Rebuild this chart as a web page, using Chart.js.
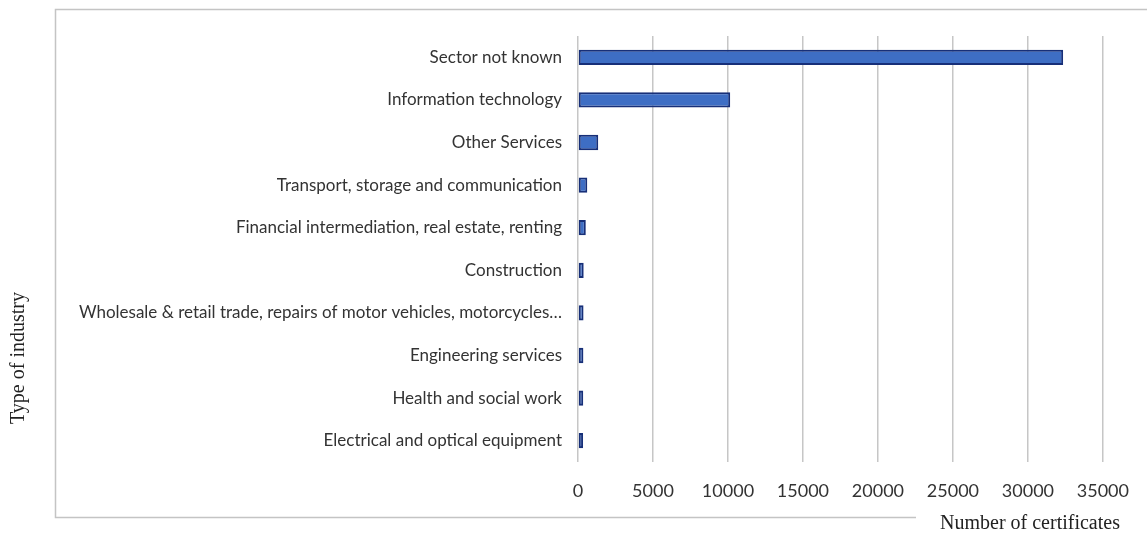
<!DOCTYPE html>
<html lang="en">
<head>
  <meta charset="UTF-8" />
  <title>Certificates by type of industry</title>
  <script src="https://cdn.jsdelivr.net/npm/chart.js"></script>
  <style>
    * { box-sizing: border-box; margin: 0; padding: 0; }
    body { background: #ffffff; }
    .chart-wrap { position: relative; width: 1147px; height: 535px; }
  </style>
</head>
<body>
  <div class="chart-wrap"><canvas id="industryChart"></canvas></div>

  <script>
    // Data
    const industries = [
      'Sector not known',
      'Information technology',
      'Other Services',
      'Transport, storage and communication',
      'Financial intermediation, real estate, renting',
      'Construction',
      'Wholesale & retail trade, repairs of motor vehicles, motorcycles…',
      'Engineering services',
      'Health and social work',
      'Electrical and optical equipment'
    ];
    const certificates = [32350, 10150, 1350, 620, 520, 380, 370, 360, 350, 340];
    const xTicks = [0, 5000, 10000, 15000, 20000, 25000, 30000, 35000];

    const yTitle = 'Type of industry';
    const xTitle = 'Number of certificates';

    // outer frame + the two serif axis titles
    const framePlugin = {
      id: 'frame',
      beforeDraw(chart) {
        const c = chart.ctx;
        c.save();
        c.strokeStyle = '#c4c4c4';
        c.lineWidth = 1.5;
        c.beginPath();
        c.moveTo(1147, 9.5);
        c.lineTo(55.5, 9.5);
        c.lineTo(55.5, 517.5);
        c.lineTo(916, 517.5);
        c.stroke();
        c.restore();
      },
      afterDraw(chart) {
        const c = chart.ctx;
        c.save();
        c.fillStyle = '#222';
        c.font = '20px "Liberation Serif", serif';
        c.textAlign = 'center';
        c.textBaseline = 'middle';
        c.fillText(xTitle, 1030, 524);
        c.translate(19, 358);
        c.rotate(-Math.PI / 2);
        c.fillText(yTitle, 0, 0);
        c.restore();
      }
    };

    new Chart(document.getElementById('industryChart'), {
      type: 'bar',
      data: {
        labels: industries,
        datasets: [{
          data: certificates,
          backgroundColor: '#3e6ec4',
          borderColor: '#172f78',
          borderWidth: 2,
          borderSkipped: false,
          categoryPercentage: 1,
          barPercentage: 0.36
        }]
      },
      options: {
        indexAxis: 'y',
        responsive: true,
        maintainAspectRatio: false,
        animation: false,
        layout: { padding: { top: 36, right: 44, left: 0, bottom: 0 } },
        plugins: {
          legend: { display: false },
          tooltip: { enabled: false }
        },
        scales: {
          x: {
            min: 0,
            max: 35000,
            afterBuildTicks: (scale) => { scale.ticks = xTicks.map(v => ({ value: v })); },
            afterFit: (scale) => { scale.height = 73; },
            border: { display: false },
            grid: { color: '#c6c6c6', lineWidth: 1.5, drawTicks: false },
            ticks: {
              padding: 18,
              color: '#333',
              callback: (v) => String(v),
              font: { family: 'Lato, "Open Sans", sans-serif', size: 18 }
            }
          },
          y: {
            afterFit: (scale) => { scale.width = 578; },
            border: { display: false },
            grid: { display: false, drawTicks: false },
            ticks: {
              padding: 16,
              color: '#333',
              autoSkip: false,
              font: { family: 'Lato, "Open Sans", sans-serif', size: 17 }
            }
          }
        }
      },
      plugins: [framePlugin]
    });
  </script>
</body>
</html>
